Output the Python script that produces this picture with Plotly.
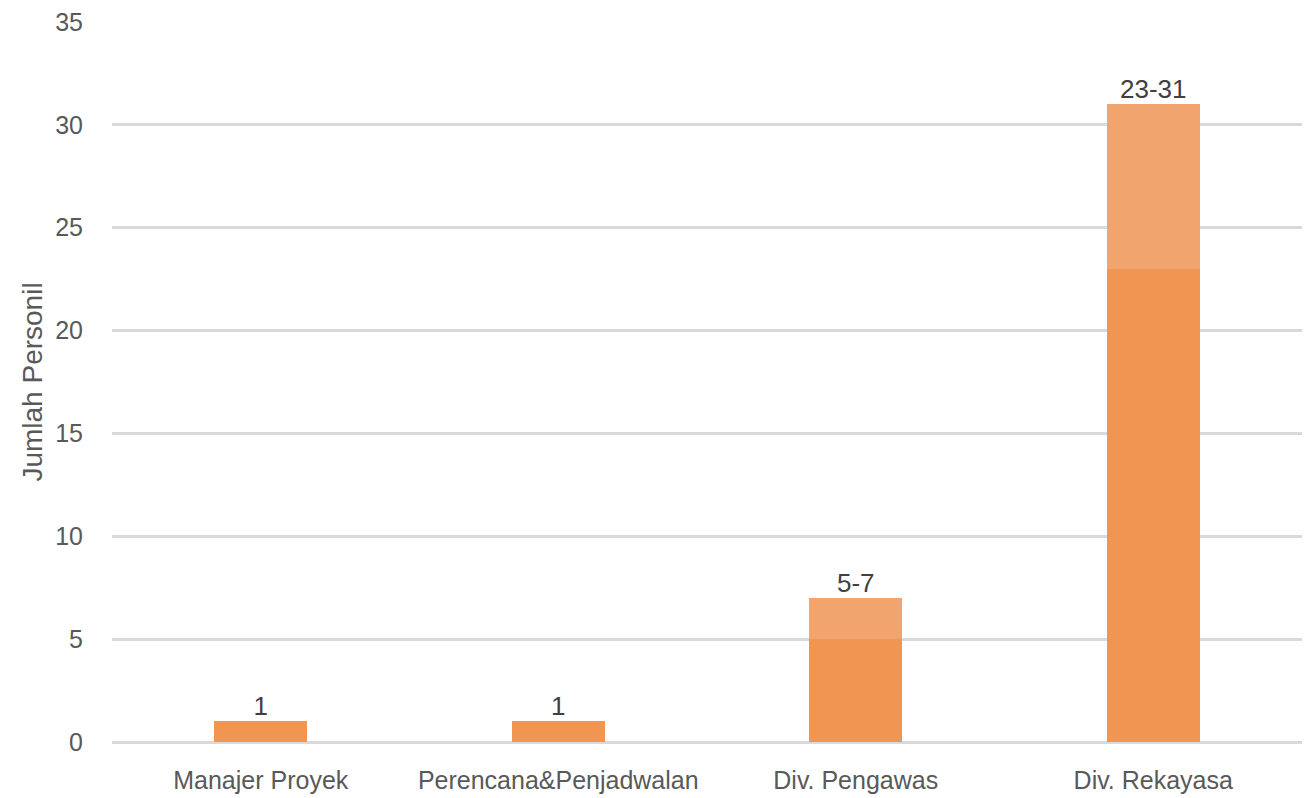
import plotly.graph_objects as go

categories = ["Manajer Proyek", "Perencana&Penjadwalan", "Div. Pengawas", "Div. Rekayasa"]
base_values = [1, 1, 5, 23]
extra_values = [0, 0, 2, 8]
labels = ["1", "1", "5-7", "23-31"]
totals = [b + e for b, e in zip(base_values, extra_values)]

FONT = "Liberation Sans Narrow, Arial Narrow, Liberation Sans, Arial, sans-serif"

fig = go.Figure()
fig.add_trace(go.Bar(x=categories, y=base_values, marker=dict(color="#F09552", line=dict(width=0)),
                     width=0.313, hoverinfo="y"))
fig.add_trace(go.Bar(x=categories, y=extra_values, marker=dict(color="#F2A46E", line=dict(width=0)),
                     width=0.313, hoverinfo="y"))
fig.add_trace(go.Scatter(x=categories, y=totals, mode="text", text=labels,
                         textposition="top center",
                         textfont=dict(family=FONT, size=26, color="#404040"),
                         hoverinfo="skip"))

fig.update_layout(
    barmode="stack",
    showlegend=False,
    width=1309, height=798,
    margin=dict(l=112, r=7, t=22, b=56),
    paper_bgcolor="white", plot_bgcolor="white",
    font=dict(family=FONT, size=25, color="#595959"),
    xaxis=dict(showgrid=False, showline=False, ticks="", ticklabelstandoff=21, automargin=False,
               tickfont=dict(size=25, color="#595959")),
    yaxis=dict(range=[0, 35], dtick=5, showgrid=True, gridcolor="#D9D9D9", gridwidth=2.5,
               zeroline=True, zerolinecolor="#D9D9D9", zerolinewidth=2.5,
               ticks="", ticklabelstandoff=28,
               title=dict(text="Jumlah Personil", font=dict(size=28, color="#595959"), standoff=4),
               tickfont=dict(size=25, color="#595959")),
)

fig.write_html("out.html")
